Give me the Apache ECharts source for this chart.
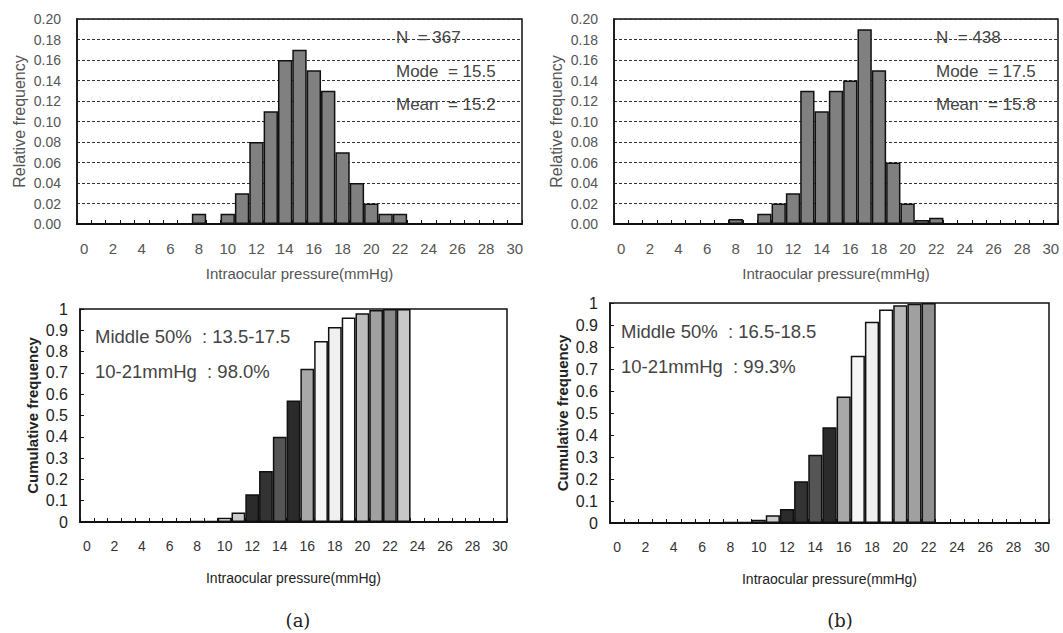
<!DOCTYPE html>
<html>
<head>
<meta charset="utf-8">
<script src="https://cdn.jsdelivr.net/npm/echarts@6/dist/echarts.min.js"></script>
<style>
html,body{margin:0;padding:0;background:#fff;}
#c{width:1063px;height:633px;}
</style>
</head>
<body>
<div id="c"></div>
<script>
// ---- data ----
const categories = ['0','1','2','3','4','5','6','7','8','9','10','11','12','13','14','15','16','17','18','19','20','21','22','23','24','25','26','27','28','29','30'];
const relFreqA = [0,0,0,0,0,0,0,0,0.01,0,0.01,0.03,0.08,0.11,0.16,0.17,0.15,0.13,0.07,0.04,0.02,0.01,0.01,0,0,0,0,0,0,0,0];
const relFreqB = [0,0,0,0,0,0,0,0,0.005,0,0.01,0.02,0.03,0.13,0.11,0.13,0.14,0.19,0.15,0.06,0.02,0.004,0.006,0,0,0,0,0,0,0,0];
const cumFreqA = [0,0,0,0,0,0,0,0,0.005,0.005,0.02,0.045,0.13,0.24,0.40,0.57,0.72,0.85,0.915,0.96,0.98,0.995,1,1,0,0,0,0,0,0,0];
const cumFreqB = [0,0,0,0,0,0,0,0,0.005,0.005,0.015,0.035,0.064,0.19,0.31,0.435,0.575,0.76,0.915,0.97,0.99,0.997,1,0,0,0,0,0,0,0,0];
const yTicksRel = [0,0.02,0.04,0.06,0.08,0.10,0.12,0.14,0.16,0.18,0.20];
const yTicksCum = [0,0.1,0.2,0.3,0.4,0.5,0.6,0.7,0.8,0.9,1];
const statsA = ['N  = 367', 'Mode  = 15.5', 'Mean  = 15.2'];
const statsB = ['N  = 438', 'Mode  = 17.5', 'Mean  = 15.8'];
const rangeA = ['Middle 50%  : 13.5-17.5', '10-21mmHg  : 98.0%'];
const rangeB = ['Middle 50%  : 16.5-18.5', '10-21mmHg  : 99.3%'];
const panelLabels = ['(a)', '(b)'];
const xName = 'Intraocular pressure(mmHg)';

// ---- styles ----
const cumColorsA = ['#fff','#fff','#fff','#fff','#fff','#fff','#fff','#fff','#222','#222','#fafafa','#cccccc','#2b2b2b','#333333','#555555','#2b2b2b','#a8a8a8','#f6f6f6','#f0f0f0','#ffffff','#bcbcbc','#a0a0a0','#8a8a8a','#c8c8c8','#fff','#fff','#fff','#fff','#fff','#fff','#fff'];
const cumColorsB = ['#fff','#fff','#fff','#fff','#fff','#fff','#fff','#fff','#222','#222','#fafafa','#cccccc','#2b2b2b','#333333','#555555','#2b2b2b','#a8a8a8','#f6f6f6','#f0f0f0','#ffffff','#b8b8b8','#a0a0a0','#909090','#fff','#fff','#fff','#fff','#fff','#fff','#fff','#fff'];
const SANS = 'Liberation Sans, Arial, sans-serif';

const grids = [
  {left:77, top:19, width:445, height:205},
  {left:614, top:19, width:444, height:205},
  {left:80, top:309, width:427, height:213},
  {left:610, top:303, width:439, height:220}
].map(g => Object.assign(g, {show:true, borderColor:'#111', borderWidth:1.5, backgroundColor:'transparent'}));

function xAxisDef(i, top){
  return {
    gridIndex:i, type:'category', data:categories, boundaryGap:true,
    axisLine:{show:true, lineStyle:{color:'#111', width:2}},
    axisTick:{show:true, inside:true, length:4, interval:0, lineStyle:{color:'#111', width:1}},
    axisLabel:{interval:1, fontFamily:SANS, fontSize: top?15:14, color: top?'#555':'#333', margin: top?17:17},
    name:xName, nameLocation:'middle', nameGap: top?42:49,
    nameTextStyle:{fontFamily:SANS, fontSize: top?15:14, color: top?'#555':'#222'}
  };
}
function yAxisRel(i){
  return {
    gridIndex:i, type:'value', min:0, max:0.2, interval:0.02,
    axisLine:{show:true, lineStyle:{color:'#111', width:1.5}},
    axisTick:{show:false},
    axisLabel:{fontFamily:SANS, fontSize:14, color:'#555', margin:16,
      formatter: v => { const t = yTicksRel.find(x => Math.abs(x - v) < 1e-9); return (t === undefined ? v : t).toFixed(2); }},
    splitLine:{show:true, lineStyle:{color:'#333', width:1, type:[3,2]}},
    name:'Relative frequency', nameLocation:'middle', nameGap:50,
    nameTextStyle:{fontFamily:SANS, fontSize:16, color:'#555'}
  };
}
function yAxisCum(i){
  return {
    gridIndex:i, type:'value', min:0, max:1, interval:0.1,
    axisLine:{show:true, lineStyle:{color:'#111', width:1.5}},
    axisTick:{show:true, inside:true, length:4, lineStyle:{color:'#111'}},
    axisLabel:{fontFamily:SANS, fontSize:16, color:'#222', margin:12,
      formatter: v => { const t = yTicksCum.find(x => Math.abs(x - v) < 1e-9); return String(t === undefined ? v : t); }},
    splitLine:{show:false},
    name:'Cumulative frequency', nameLocation:'middle', nameGap:40,
    nameTextStyle:{fontFamily:SANS, fontSize:15, fontWeight:'bold', color:'#222'}
  };
}

function relSeries(i, data){
  return {
    type:'bar', xAxisIndex:i, yAxisIndex:i, barCategoryGap:'0%', barGap:'0%',
    data: data.map(v => v === 0 ? '-' : v),
    itemStyle:{color:'#808080', borderColor:'#111', borderWidth:1.5},
    silent:true, animation:false
  };
}
function cumSeries(i, data, colors){
  return {
    type:'bar', xAxisIndex:i, yAxisIndex:i, barCategoryGap:'0%', barGap:'0%',
    data: data.map((v, k) => v === 0 ? '-' : {value:v, itemStyle:{color:colors[k]}}),
    itemStyle:{borderColor:'#111', borderWidth:1.5},
    silent:true, animation:false
  };
}

function txt(x, y, s, size, color, family, align){
  return {type:'text', x:x, y:y, silent:true, z:100,
    style:{text:s, fontSize:size, fontFamily:family||SANS, fill:color||'#444', verticalAlign:'middle', align:align||'left'}};
}

const graphics = [
  txt(396, 37, statsA[0], 17, '#444'),
  txt(396, 71, statsA[1], 17, '#444'),
  txt(396, 104, statsA[2], 17, '#444'),
  txt(936, 37, statsB[0], 17, '#444'),
  txt(936, 71, statsB[1], 17, '#444'),
  txt(936, 104, statsB[2], 17, '#444'),
  txt(95, 336, rangeA[0], 18.5, '#444'),
  txt(95, 371, rangeA[1], 18.5, '#444'),
  txt(621, 331, rangeB[0], 18.5, '#444'),
  txt(621, 366, rangeB[1], 18.5, '#444'),
  txt(298, 620, panelLabels[0], 18, '#222', 'DejaVu Serif, serif', 'center'),
  txt(840, 620, panelLabels[1], 18, '#222', 'DejaVu Serif, serif', 'center')
];

const chart = echarts.init(document.getElementById('c'), null, {renderer:'svg'});
chart.setOption({
  backgroundColor:'#fff',
  animation:false,
  grid: grids,
  xAxis:[xAxisDef(0,true), xAxisDef(1,true), xAxisDef(2,false), xAxisDef(3,false)],
  yAxis:[yAxisRel(0), yAxisRel(1), yAxisCum(2), yAxisCum(3)],
  series:[
    relSeries(0, relFreqA),
    relSeries(1, relFreqB),
    cumSeries(2, cumFreqA, cumColorsA),
    cumSeries(3, cumFreqB, cumColorsB)
  ],
  graphic: graphics
});
</script>
</body>
</html>
